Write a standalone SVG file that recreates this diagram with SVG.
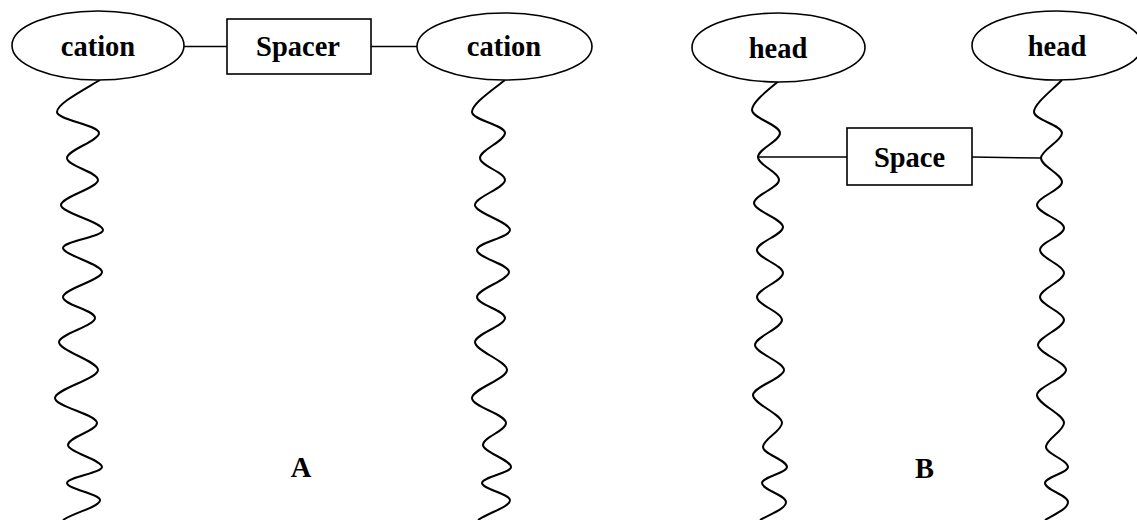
<svg xmlns="http://www.w3.org/2000/svg" width="1137" height="520" viewBox="0 0 1137 520">
<style>
.shape{fill:#fff;stroke:#000;stroke-width:1.6}
.wire{fill:none;stroke:#000;stroke-width:1.5}
.wave{fill:none;stroke:#000;stroke-width:2}
.lbl{font-family:"Liberation Serif","Times New Roman",serif;font-weight:bold;font-size:28.5px;text-anchor:middle;fill:#000}
</style>
<rect width="1137" height="520" fill="#fff"/>
<g id="connectors">
<line class="wire" x1="184" y1="46.5" x2="227" y2="46.5"/>
<line class="wire" x1="371" y1="46.5" x2="417" y2="46.5"/>
<line class="wire" x1="758" y1="157" x2="847" y2="157"/>
<line class="wire" x1="972" y1="157" x2="1041" y2="158"/>
<path class="wave" d="M100,80 C80,92 57,104 57,112 C57,120 99,125 99,133 C99,141 67,150 67,158 C67,166 98,172 98,180 C98,188 61,197 61,205 C61,213 103,222 103,230 C103,237 63,241 63,248 C63,255 102,264 102,272 C102,280 63,289 63,297 C63,305 95,310 95,318 C95,326 59,334 59,342 C59,351 98,361 98,370 C98,379 55,389 55,398 C55,407 97,414 97,423 C97,431 68,437 68,445 C68,452 102,460 102,467 C102,473 67,477 67,483 C67,489 100,494 100,500 C100,507 75,512 63,520"/>
<path class="wave" d="M505,80 C490,92 472,104 472,112 C472,120 505,125 505,133 C505,141 480,150 480,158 C480,166 505,172 505,180 C505,188 475,197 475,205 C475,213 510,222 510,230 C510,238 477,242 477,250 C477,258 509,264 509,272 C509,280 477,289 477,297 C477,305 505,310 505,318 C505,326 475,334 475,342 C475,351 507,361 507,370 C507,379 472,389 472,398 C472,407 506,414 506,423 C506,431 483,437 483,445 C483,452 511,460 511,467 C511,473 482,477 482,483 C482,489 510,494 510,500 C510,507 490,512 478,520"/>
<path class="wave" d="M780,80 C768,90 752,102 752,110 C752,118 780,125 780,133 C780,141 758,149 758,157 C758,165 779,172 779,180 C779,188 754,195 754,203 C754,211 783,219 783,227 C783,235 757,242 757,250 C757,258 783,265 783,273 C783,281 757,289 757,297 C757,305 782,312 782,320 C782,328 755,337 755,345 C755,353 784,362 784,370 C784,378 753,387 753,395 C753,404 782,414 782,423 C782,431 763,439 763,447 C763,454 787,460 787,467 C787,473 762,477 762,483 C762,490 786,495 786,502 C786,509 770,514 760,520"/>
<path class="wave" d="M1062,80 C1050,92 1034,104 1034,112 C1034,120 1062,125 1062,133 C1062,141 1041,150 1041,158 C1041,166 1062,174 1062,182 C1062,190 1037,197 1037,205 C1037,213 1064,220 1064,228 C1064,236 1040,242 1040,250 C1040,258 1064,265 1064,273 C1064,281 1040,289 1040,297 C1040,305 1064,312 1064,320 C1064,328 1038,337 1038,345 C1038,353 1066,362 1066,370 C1066,378 1037,387 1037,395 C1037,404 1064,414 1064,423 C1064,431 1046,439 1046,447 C1046,454 1068,460 1068,467 C1068,473 1045,477 1045,483 C1045,490 1068,495 1068,502 C1068,509 1055,514 1045,520"/>
</g>
<g id="cation-left">
<ellipse class="shape" cx="98" cy="45.5" rx="86" ry="34.5"/>
<text class="lbl" x="98" y="56">cation</text>
</g>
<g id="spacer">
<rect class="shape" x="227" y="19" width="144" height="55"/>
<text class="lbl" x="298" y="56">Spacer</text>
</g>
<g id="cation-right">
<ellipse class="shape" cx="504.5" cy="46.5" rx="87.5" ry="33.5"/>
<text class="lbl" x="504" y="56">cation</text>
</g>
<g id="label-a">
<text class="lbl" x="301" y="477">A</text>
</g>
<g id="head-left">
<ellipse class="shape" cx="778.5" cy="47.5" rx="86.5" ry="34.5"/>
<text class="lbl" x="778" y="58">head</text>
</g>
<g id="head-right">
<ellipse class="shape" cx="1057" cy="45.5" rx="85" ry="34.5"/>
<text class="lbl" x="1057" y="56">head</text>
</g>
<g id="space">
<rect class="shape" x="847" y="128" width="125" height="57"/>
<text class="lbl" x="909.5" y="167">Space</text>
</g>
<g id="label-b">
<text class="lbl" x="924.5" y="478">B</text>
</g>
</svg>
